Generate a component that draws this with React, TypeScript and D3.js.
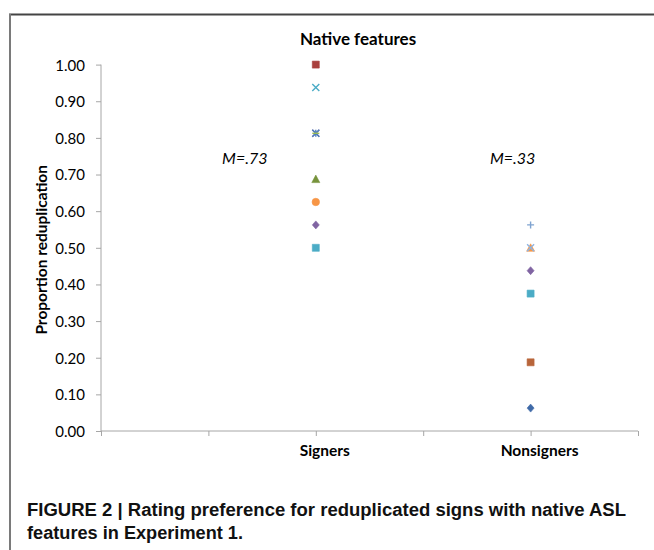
import { useEffect, useRef } from "react";
import * as d3 from "d3";

// ── Data ───────────────────────────────────────────────────────────────
const GROUPS = ["Signers", "Nonsigners"];
const GROUP_X = [1, 2];
const MEAN_LABELS = ["M=.73", "M=.33"];

const SIGNERS_VALUES = [1.0, 0.9375, 0.8125, 0.8125, 0.8125, 0.6875, 0.625, 0.5625, 0.5];
const SIGNERS_MARKERS = ["square", "x", "x", "star", "dash", "triangle", "circle", "diamond", "square"];
const SIGNERS_COLORS = ["#A9403D", "#4BACC6", "#8064A2", "#4F81BD", "#9BBB59", "#77933C", "#F79646", "#8064A2", "#4BACC6"];

const NONSIGNERS_VALUES = [0.5625, 0.5, 0.5, 0.4375, 0.375, 0.1875, 0.0625];
const NONSIGNERS_MARKERS = ["plus", "triangle", "x", "diamond", "square", "square", "diamond"];
const NONSIGNERS_COLORS = ["#7FA3D0", "#F79646", "#8EB4E3", "#8064A2", "#4BACC6", "#B8653A", "#3F6AA8"];

const Y_TICKS = [0, 0.1, 0.2, 0.3, 0.4, 0.5, 0.6, 0.7, 0.8, 0.9, 1.0];
const X_TICKS = [0, 0.5, 1, 1.5, 2, 2.5];

const W = 654;
const H = 550;
const PLOT = { left: 101, right: 638, top: 64.6, bottom: 431 };
const FONT = "Lato, 'Open Sans', sans-serif";
const AXIS_COLOR = "#A6A6A6";

function markerPath(kind: string): { d: string; filled: boolean } {
  const s = 3.5;
  switch (kind) {
    case "square":
      return { d: d3.symbol(d3.symbolSquare, 49)() as string, filled: true };
    case "diamond":
      return { d: `M0,${-s - 0.5}L${s},0L0,${s + 0.5}L${-s},0Z`, filled: true };
    case "triangle":
      return { d: `M0,${-s - 0.5}L${s + 0.5},${s}L${-s - 0.5},${s}Z`, filled: true };
    case "circle":
      return { d: d3.symbol(d3.symbolCircle, 44)() as string, filled: true };
    case "x":
      return { d: `M${-s},${-s}L${s},${s}M${-s},${s}L${s},${-s}`, filled: false };
    case "star":
      return { d: `M${-s},${-s}L${s},${s}M${-s},${s}L${s},${-s}M0,${-s}L0,${s}`, filled: false };
    case "plus":
      return { d: `M${-s},0L${s},0M0,${-s}L0,${s}`, filled: false };
    case "dash":
      return { d: `M${-s},0L${s},0`, filled: false };
    default:
      return { d: "", filled: true };
  }
}

export default function App() {
  const svgRef = useRef<SVGSVGElement>(null);

  useEffect(() => {
    if (!svgRef.current) return;
    const svg = d3.select(svgRef.current);
    svg.selectAll("*").remove();

    svg.append("rect").attr("width", W).attr("height", H).attr("fill", "#fff");

    // ── Frame (top + left rules) ──
    svg.append("line")
      .attr("x1", 9).attr("x2", W).attr("y1", 14.5).attr("y2", 14.5)
      .attr("stroke", "#444").attr("stroke-width", 2);
    svg.append("line")
      .attr("x1", 10).attr("x2", 10).attr("y1", 14).attr("y2", H)
      .attr("stroke", "#7a7a7a").attr("stroke-width", 2);

    const x = d3.scaleLinear().domain([0, 2.5]).range([PLOT.left, PLOT.right]);
    const y = d3.scaleLinear().domain([0, 1]).range([PLOT.bottom, PLOT.top]);

    // ── Y axis ──
    svg.append("g")
      .attr("transform", `translate(${PLOT.left},0)`)
      .call(d3.axisLeft(y).tickValues(Y_TICKS).tickFormat((d) => (+d).toFixed(2)).tickSize(5).tickPadding(11))
      .call((a) => {
        a.select(".domain").attr("stroke", AXIS_COLOR).attr("d", `M0,${PLOT.top}V${PLOT.bottom}`);
        a.selectAll(".tick line").attr("stroke", AXIS_COLOR);
        a.selectAll(".tick text")
          .attr("fill", "#000").attr("font-size", 15).attr("font-family", FONT)
          .attr("dy", "0.36em");
      });

    // ── X axis ──
    svg.append("g")
      .attr("transform", `translate(0,${PLOT.bottom})`)
      .call(d3.axisBottom(x).tickValues(X_TICKS).tickFormat(() => "").tickSize(5))
      .call((a) => {
        a.select(".domain").attr("stroke", AXIS_COLOR).attr("d", `M${PLOT.left},0H${PLOT.right}`);
        a.selectAll(".tick line").attr("stroke", AXIS_COLOR);
      });

    // ── Category labels ──
    GROUPS.forEach((g, i) => {
      svg.append("text")
        .attr("x", x(GROUP_X[i]) + 9).attr("y", 456)
        .attr("text-anchor", "middle")
        .attr("font-family", FONT).attr("font-size", 15.5).attr("font-weight", 700)
        .text(g);
    });

    // ── Mean annotations ──
    const meanOffsets = [-71, -18];
    MEAN_LABELS.forEach((m, i) => {
      svg.append("text")
        .attr("x", x(GROUP_X[i]) + meanOffsets[i]).attr("y", 164)
        .attr("text-anchor", "middle")
        .attr("font-family", FONT).attr("font-size", 16).attr("font-style", "italic")
        .text(m);
    });

    // ── Points ──
    const groups = [
      { gx: GROUP_X[0], vals: SIGNERS_VALUES, marks: SIGNERS_MARKERS, cols: SIGNERS_COLORS },
      { gx: GROUP_X[1], vals: NONSIGNERS_VALUES, marks: NONSIGNERS_MARKERS, cols: NONSIGNERS_COLORS },
    ];
    groups.forEach(({ gx, vals, marks, cols }) => {
      vals.forEach((v, i) => {
        const m = markerPath(marks[i]);
        svg.append("path")
          .attr("transform", `translate(${x(gx)},${y(v)})`)
          .attr("d", m.d)
          .attr("fill", m.filled ? cols[i] : "none")
          .attr("stroke", cols[i])
          .attr("stroke-width", m.filled ? 0.6 : 1.4);
      });
    });

    // ── Title ──
    svg.append("text")
      .attr("x", 358).attr("y", 45)
      .attr("text-anchor", "middle")
      .attr("font-family", FONT).attr("font-size", 17).attr("font-weight", 700)
      .text("Native features");

    // ── Y axis title ──
    svg.append("text")
      .attr("transform", `translate(47,${(PLOT.top + PLOT.bottom) / 2 + 2}) rotate(-90)`)
      .attr("text-anchor", "middle")
      .attr("font-family", FONT).attr("font-size", 15.5).attr("font-weight", 700)
      .text("Proportion reduplication");

    // ── Caption ──
    const cap = svg.append("g")
      .attr("font-family", "'Liberation Sans Narrow', 'Liberation Sans', Arial, sans-serif")
      .attr("font-weight", 700).attr("font-size", 18).attr("fill", "#111");
    cap.append("text")
      .attr("x", 27).attr("y", 516)
      .attr("textLength", 599).attr("lengthAdjust", "spacingAndGlyphs")
      .text("FIGURE 2 | Rating preference for reduplicated signs with native ASL");
    cap.append("text")
      .attr("x", 27).attr("y", 539)
      .attr("textLength", 216).attr("lengthAdjust", "spacingAndGlyphs")
      .text("features in Experiment 1.");
  }, []);

  return (
    <div style={{ position: "absolute", left: 0, top: 0 }}>
      <svg ref={svgRef} width={W} height={H} style={{ display: "block" }} />
    </div>
  );
}
